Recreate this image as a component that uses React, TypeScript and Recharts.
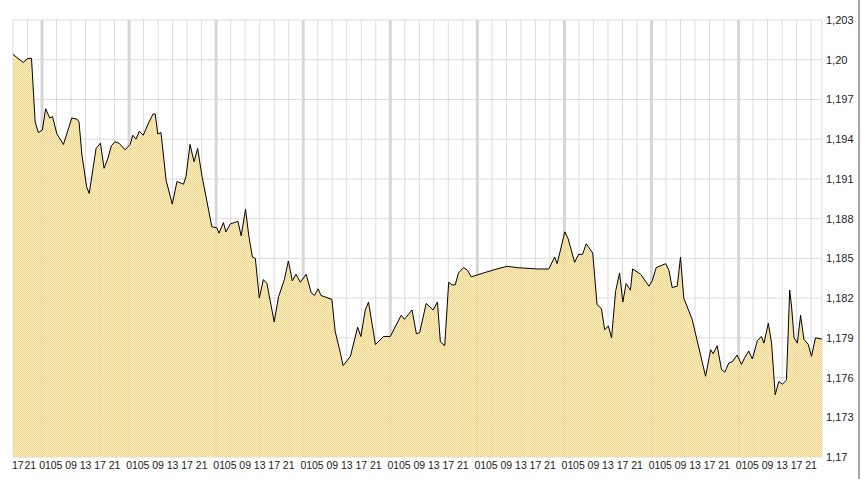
import React from "react";
import { AreaChart, Area, XAxis, YAxis, CartesianGrid } from "recharts";

// hours since 17:00 of the first (partial) day
const hours = [
  0, 2.8, 4.1, 5.1, 6.1, 7.0, 8.1, 9.0, 10.1, 10.9,
  12.1, 13.9, 16.2, 17.7, 18.2, 19.0, 20.3, 21.0, 22.9, 24.1,
  25.1, 26.1, 27.1, 28.1, 29.2, 30.9, 32.3, 33.0, 33.9, 34.8,
  35.9, 37.5, 38.6, 39.2, 39.9, 40.8, 42.2, 43.9, 45.2, 46.1,
  47.0, 47.7, 48.8, 49.9, 50.9, 52.1, 54.8, 56.2, 56.8, 58.0,
  58.7, 59.9, 61.0, 62.0, 62.9, 64.1, 65.0, 66.0, 66.8, 67.9,
  69.0, 70.0, 72.0, 73.2, 74.8, 75.9, 77.0, 78.0, 79.2, 80.8,
  82.2, 83.1, 84.1, 84.9, 87.9, 88.8, 90.2, 91.0, 93.0, 95.0,
  95.9, 97.1, 98.0, 99.9, 102.2, 104.0, 107.0, 107.9, 110.0, 111.2,
  112.1, 113.9, 115.8, 117.0, 117.8, 119.0, 120.1, 121.0, 121.9, 122.8,
  124.2, 125.3, 126.3, 129.7, 133.4, 136.2, 139.0, 144.5, 147.7, 149.3,
  150.0, 152.1, 153.0, 154.8, 155.9, 157.0, 158.0, 159.8, 161.0, 162.2,
  163.1, 164.1, 165.0, 166.1, 167.2, 168.1, 169.0, 170.2, 170.8, 173.0,
  175.3, 176.2, 177.3, 179.9, 180.8, 181.7, 183.1, 184.0, 184.9, 187.2,
  190.9, 192.3, 193.0, 194.1, 195.3, 196.2, 197.3, 198.3, 199.6, 200.8,
  201.7, 202.8, 203.8, 205.2, 206.3, 207.0, 208.2, 209.1, 210.1, 211.1,
  212.1, 213.2, 214.1, 214.6, 215.3, 216.2, 217.1, 218.0, 219.2, 220.1,
  221.2, 223.0,
];

const values = [
  1.2004, 1.1998, 1.2001, 1.2001, 1.1953, 1.1945, 1.1947, 1.1963, 1.1956, 1.1957,
  1.1944, 1.1936, 1.1956, 1.1955, 1.1953, 1.1928, 1.1904, 1.1899, 1.1933, 1.1937,
  1.1918, 1.1925, 1.1935, 1.1938, 1.1937, 1.1932, 1.1936, 1.1943, 1.1940, 1.1946,
  1.1943, 1.1953, 1.1959, 1.1959, 1.1944, 1.1945, 1.1909, 1.1891, 1.1908, 1.1907,
  1.1906, 1.1912, 1.1936, 1.1923, 1.1933, 1.1912, 1.1874, 1.1873, 1.1869, 1.1877,
  1.1870, 1.1876, 1.1877, 1.1878, 1.1867, 1.1887, 1.1867, 1.1851, 1.1850, 1.1820,
  1.1834, 1.1831, 1.1802, 1.1821, 1.1834, 1.1848, 1.1833, 1.1838, 1.1832, 1.1838,
  1.1824, 1.1822, 1.1827, 1.1822, 1.1819, 1.1795, 1.1779, 1.1769, 1.1776, 1.1798,
  1.1791, 1.1811, 1.1817, 1.1785, 1.1791, 1.1791, 1.1807, 1.1804, 1.1811, 1.1793,
  1.1794, 1.1816, 1.1811, 1.1817, 1.1787, 1.1784, 1.1832, 1.1830, 1.1830, 1.1839,
  1.1843, 1.1841, 1.1836, 1.1839, 1.1842, 1.1844, 1.1843, 1.1842, 1.1842, 1.1851,
  1.1846, 1.1870, 1.1865, 1.1847, 1.1853, 1.1853, 1.1861, 1.1854, 1.1815, 1.1812,
  1.1796, 1.1799, 1.1790, 1.1825, 1.1839, 1.1817, 1.1831, 1.1826, 1.1842, 1.1838,
  1.1829, 1.1833, 1.1843, 1.1846, 1.1841, 1.1828, 1.1829, 1.1851, 1.1820, 1.1804,
  1.1761, 1.1781, 1.1778, 1.1784, 1.1766, 1.1764, 1.1771, 1.1772, 1.1777, 1.1770,
  1.1775, 1.1780, 1.1774, 1.1788, 1.1791, 1.1786, 1.1801, 1.1786, 1.1747, 1.1757,
  1.1755, 1.1758, 1.1826, 1.1814, 1.1790, 1.1786, 1.1807, 1.1789, 1.1785, 1.1776,
  1.1790, 1.1789,
];

const xTicks = [
  0, 4, 8, 12, 16, 20, 24, 28, 32, 36, 40, 44, 48, 52, 56, 60, 64, 68, 72, 76,
  80, 84, 88, 92, 96, 100, 104, 108, 112, 116, 120, 124, 128, 132, 136, 140,
  144, 148, 152, 156, 160, 164, 168, 172, 176, 180, 184, 188, 192, 196, 200,
  204, 208, 212, 216, 220,
];
const hourLabels = ["17", "21", "01", "05", "09", "13"];
const dayStarts = [8, 32, 56, 80, 104, 128, 152, 176, 200];

const yTicks = [1.17, 1.173, 1.176, 1.179, 1.182, 1.185, 1.188, 1.191, 1.194, 1.197, 1.2, 1.203];
const yTickLabels = ["1,17", "1,173", "1,176", "1,179", "1,182", "1,185", "1,188", "1,191", "1,194", "1,197", "1,20", "1,203"];

const data = hours.map((h, i) => ({ h, v: values[i] }));

const FONT = "'Liberation Sans', Arial, sans-serif";

const XTick = (props: any) => {
  const { x, y, payload } = props;
  const i = xTicks.indexOf(payload.value);
  const label = hourLabels[i % hourLabels.length];
  let tx = x;
  let anchor: "start" | "middle" = "middle";
  if (i === 0) {
    tx = x - 1;
    anchor = "start";
  } else if (i === 1) {
    tx = x - 3;
    anchor = "start";
  } else if (label === "01") {
    tx = x + 3;
  }
  return (
    <text x={tx} y={y} dy="0.71em" textAnchor={anchor} fontSize={10.5} fontFamily={FONT} fill="#1a1a1a">
      {label}
    </text>
  );
};

const YTick = (props: any) => {
  const { x, y, payload } = props;
  const i = yTicks.findIndex((t) => Math.abs(t - payload.value) < 1e-9);
  return (
    <text x={x} y={y} dy="0.36em" textAnchor="start" fontSize={11} fontFamily={FONT} fill="#1a1a1a">
      {yTickLabels[i]}
    </text>
  );
};

const dayLineGenerator = (args: any) => {
  const axis = args && args.xAxis;
  const s = axis && axis.scale;
  if (!s) return [];
  const fn = typeof s === "function" ? s : typeof s.map === "function" ? (v: number) => s.map(v) : null;
  if (!fn) return [];
  return dayStarts.map((d) => fn(d));
};

export default function App() {
  return (
    <div style={{ position: "relative", width: 861, height: 479, background: "#fff" }}>
      <style>{"body{margin:0}"}</style>
      <AreaChart
        width={861}
        height={479}
        data={data}
        margin={{ top: 20, right: 0, bottom: 0, left: 13 }}
      >
        <defs>
          <pattern id="hatch" width="2" height="2" patternUnits="userSpaceOnUse">
            <rect x="0" y="0" width="2" height="2" fill="#f9e9b8" />
            <rect x="0" y="0" width="1" height="1" fill="#f0d27e" />
            <rect x="1" y="1" width="1" height="1" fill="#f0d27e" />
          </pattern>
        </defs>
        <CartesianGrid stroke="#dcdcdc" strokeWidth={1} />
        <CartesianGrid
          horizontal={false}
          vertical
          stroke="#d6d6d6"
          strokeWidth={3}
          verticalCoordinatesGenerator={dayLineGenerator}
        />
        <XAxis
          dataKey="h"
          type="number"
          domain={[0, 223]}
          ticks={xTicks}
          interval={0}
          tickLine={false}
          axisLine={false}
          tickSize={0}
          tickMargin={5}
          height={22}
          tick={<XTick />}
          allowDataOverflow
        />
        <YAxis
          orientation="right"
          domain={[1.17, 1.203]}
          ticks={yTicks}
          interval={0}
          tickLine={false}
          axisLine={false}
          tickSize={0}
          tickMargin={4}
          width={39}
          tick={<YTick />}
          allowDataOverflow
        />
        <Area
          type="linear"
          dataKey="v"
          stroke="#000"
          strokeWidth={1}
          fill="url(#hatch)"
          fillOpacity={0.88}
          dot={false}
          activeDot={false}
          isAnimationActive={false}
        />
      </AreaChart>
      <div style={{ position: "absolute", left: 858, top: 0, width: 2, height: 479, background: "#a8a8a8" }} />
    </div>
  );
}
